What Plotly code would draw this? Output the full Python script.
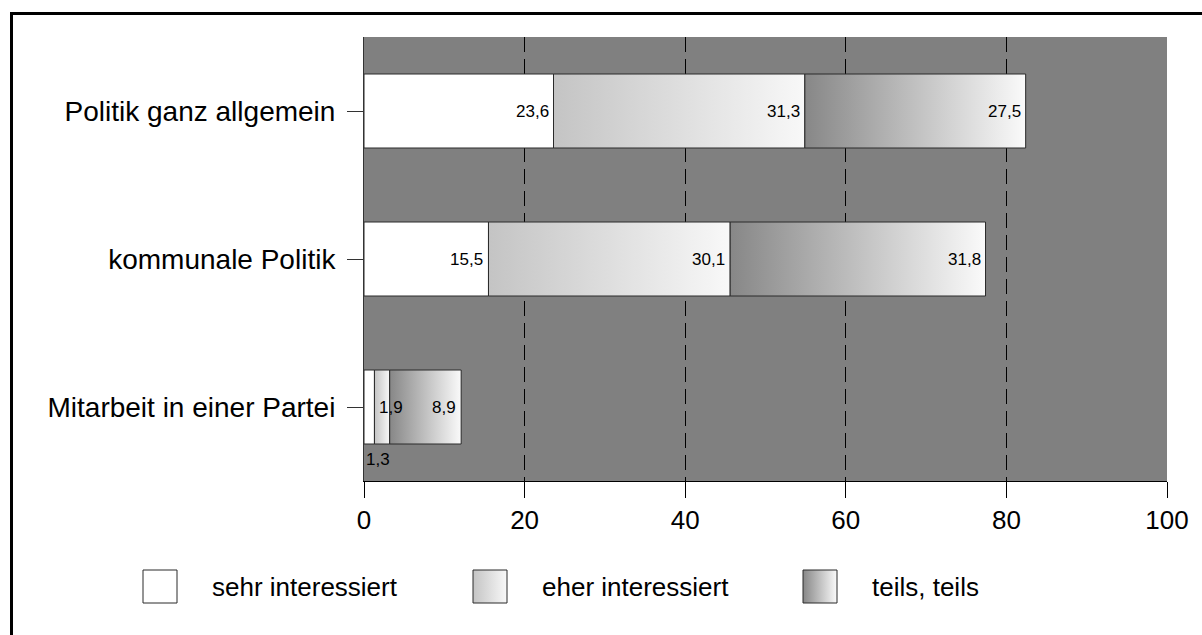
import plotly.graph_objects as go

# ---------------- data ----------------
categories = ["Politik ganz allgemein", "kommunale Politik", "Mitarbeit in einer Partei"]
series_names = ["sehr interessiert", "eher interessiert", "teils, teils"]
sehr_interessiert = [23.6, 15.5, 1.3]
eher_interessiert = [31.3, 30.1, 1.9]
teils_teils = [27.5, 31.8, 8.9]
x_tick_values = [0, 20, 40, 60, 80, 100]

# ---------------- styling ----------------
W, H = 1202, 635
PL, PR, PT, PB = 364, 1167, 37, 481  # plot area in px
FONT = "Arial, Liberation Sans, sans-serif"
BG = "#808080"
EDGE = "#2a2a2a"
fills = [
    dict(color="white", grad=None),
    dict(color="#dddddd", grad=[[0, "#c4c4c4"], [1, "#f8f8f8"]]),
    dict(color="#bbbbbb", grad=[[0, "#878787"], [1, "#fafafa"]]),
]
HALF = 0.25  # half bar thickness in category units

series = [sehr_interessiert, eher_interessiert, teils_teils]

fig = go.Figure()

def seg_trace(x0, x1, y0, y1, style, xa="x", ya="y"):
    kw = dict(
        x=[x0, x1, x1, x0, x0],
        y=[y0, y0, y1, y1, y0],
        mode="lines",
        fill="toself",
        line=dict(color=EDGE, width=1),
        fillcolor=style["color"],
        hoverinfo="skip",
        showlegend=False,
        xaxis=xa,
        yaxis=ya,
    )
    if style["grad"] is not None:
        kw["fillgradient"] = dict(type="horizontal", colorscale=style["grad"])
    return go.Scatter(**kw)

VAL_FONT = dict(family=FONT, size=17, color="black")
annotations = []
for ci, cat in enumerate(categories):
    start = 0.0
    for si, vals in enumerate(series):
        v = vals[ci]
        x0, x1 = start, start + v
        fig.add_trace(seg_trace(x0, x1, ci - HALF, ci + HALF, fills[si]))
        label = f"{v:.1f}".replace(".", ",")
        if v < 1.5:
            # too small: label below the bar
            annotations.append(dict(x=x0, y=ci + HALF, xref="x", yref="y", text=label,
                                    showarrow=False, xanchor="left", yanchor="top",
                                    xshift=0, yshift=-4, font=VAL_FONT))
        elif v < 3:
            annotations.append(dict(x=x1, y=ci, xref="x", yref="y", text=label,
                                    showarrow=False, xanchor="center", yanchor="middle",
                                    xshift=1, font=VAL_FONT))
        else:
            annotations.append(dict(x=x1, y=ci, xref="x", yref="y", text=label,
                                    showarrow=False, xanchor="right", yanchor="middle",
                                    xshift=-3, font=VAL_FONT))
        start = x1

# ---------------- custom legend (pixel coordinate overlay axes) ----------------
LEG_X0, LEG_STEP, LEG_Y0, SW, SH = 143, 330, 570, 34, 33
for si, name in enumerate(series_names):
    lx = LEG_X0 + si * LEG_STEP
    fig.add_trace(seg_trace(lx, lx + SW, LEG_Y0, LEG_Y0 + SH, fills[si], xa="x2", ya="y2"))
    annotations.append(dict(x=lx + 67, y=LEG_Y0 + SH / 2, xref="x2", yref="y2", text=name,
                            showarrow=False, xanchor="left", yanchor="middle",
                            font=dict(family=FONT, size=26, color="black")))

shapes = [
    # gray plot background (below gridlines)
    dict(type="rect", xref="x domain", yref="y domain", x0=0, x1=1, y0=0, y1=1,
         fillcolor=BG, line=dict(width=0), layer="below"),
    # outer frame (top and left), running off the picture's right and bottom edges
    dict(type="line", xref="paper", yref="paper", x0=10 / W, x1=1,
         y0=1 - 13.5 / H, y1=1 - 13.5 / H, line=dict(color="black", width=3)),
    dict(type="line", xref="paper", yref="paper", x0=11.5 / W, x1=11.5 / W,
         y0=0, y1=1 - 12 / H, line=dict(color="black", width=3)),
]

fig.update_layout(
    width=W, height=H, autosize=False,
    margin=dict(l=0, r=0, t=0, b=0, pad=0, autoexpand=False),
    paper_bgcolor="white",
    plot_bgcolor="rgba(0,0,0,0)",
    showlegend=False,
    font=dict(family=FONT, color="black"),
    annotations=annotations,
    shapes=shapes,
    xaxis=dict(
        domain=[PL / W, PR / W], range=[0, 100], tickvals=x_tick_values,
        showgrid=True, gridcolor="black", griddash="15px,7px", gridwidth=1,
        zeroline=False, showline=True, linecolor="black", linewidth=1,
        ticks="outside", ticklen=16, tickcolor="black", tickwidth=1, automargin=False,
        tickfont=dict(family=FONT, size=26, color="black"), anchor="y", fixedrange=True,
    ),
    yaxis=dict(
        domain=[1 - PB / H, 1 - PT / H], range=[2.5, -0.5],
        tickvals=list(range(len(categories))), ticktext=categories,
        showgrid=False, zeroline=False, showline=True, linecolor="#333333", linewidth=1,
        ticks="outside", ticklen=16, tickcolor="#333333", tickwidth=1,
        ticklabelstandoff=6, automargin=False,
        tickfont=dict(family=FONT, size=28, color="black"), anchor="x", fixedrange=True,
    ),
    xaxis2=dict(domain=[0, 1], range=[0, W], visible=False, anchor="y2", fixedrange=True),
    yaxis2=dict(domain=[0, 1], range=[H, 0], visible=False, anchor="x2", fixedrange=True),
)

fig.write_html(
    "out.html",
    config={"displayModeBar": False, "responsive": False},
    post_script="document.body.style.margin='0';document.body.style.overflow='hidden';",
)
